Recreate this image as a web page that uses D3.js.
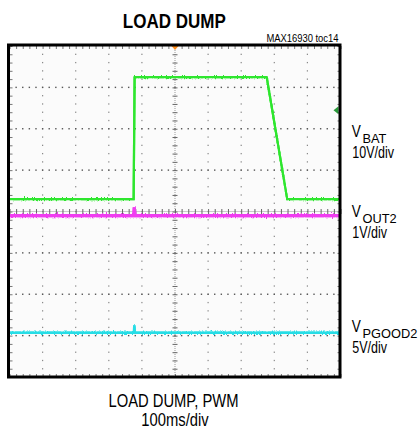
<!DOCTYPE html>
<html>
<head>
<meta charset="utf-8">
<script src="https://cdn.jsdelivr.net/npm/d3@7"></script>
<style>
  body { margin: 0; background: #fff; }
  text { font-family: "Liberation Sans", Arial, sans-serif; }
</style>
</head>
<body>
<div id="chart"></div>
<script>
// scope readings, time in ms (100ms/div, 10 div)
const vbatTime  = [0, 375, 378, 777, 839, 1000];
const vbatVolts = [14, 14, 43.5, 43.5, 14, 14];
const vout2Time  = [0, 376, 377, 379, 1000];
const vout2Volts = [5, 5, 5.2, 5, 5];
const pgoodTime  = [0, 376, 377, 379, 1000];
const pgoodVolts = [5, 5, 5.9, 5, 5];

const channelNames  = ["BAT", "OUT2", "PGOOD2"];
const channelScales = ["10V/div", "1V/div", "5V/div"];
const voltsPerDiv   = [10, 1, 5];
const zeroDiv       = [-1.1, -5.1, -3.93];   // where 0V sits, in div from centre
const triggerLevel  = 35.5;                  // V on VBAT
const triggerTime   = 500;

const title = "LOAD DUMP";
const tocLabel = "MAX16930 toc14";
const footer = ["LOAD DUMP, PWM", "100ms/div"];

const W = 419, H = 431;
const svg = d3.select("#chart").append("svg")
  .attr("width", W).attr("height", H);

const x = d3.scaleLinear().domain([0, 1000]).range([9.5, 340.5]);
const y = d3.scaleLinear().domain([-4, 4]).range([377, 46]);

// squeeze text horizontally (no narrow font installed)
function narrow(sel, k) {
  const n = sel.node();
  sel.attr("textLength", n.getComputedTextLength() * k).attr("lengthAdjust", "spacingAndGlyphs");
  return sel;
}

// noise look for the traces (vertical jitter only)
const defs = svg.append("defs");
const f = defs.append("filter").attr("id", "noise")
  .attr("x", "-5%").attr("y", "-50%").attr("width", "110%").attr("height", "200%");
f.append("feTurbulence").attr("type", "fractalNoise")
  .attr("baseFrequency", "0.9 0.5").attr("numOctaves", 2).attr("seed", 5).attr("result", "t");
const ct = f.append("feComponentTransfer").attr("in", "t").attr("result", "t2");
ct.append("feFuncR").attr("type", "linear").attr("slope", 0).attr("intercept", 0.5);
f.append("feDisplacementMap").attr("in", "SourceGraphic").attr("in2", "t2")
  .attr("scale", 5).attr("xChannelSelector", "R").attr("yChannelSelector", "G");
defs.append("clipPath").attr("id", "plotclip").append("rect")
  .attr("x", x(0)).attr("y", y(4)).attr("width", x(1000) - x(0)).attr("height", y(-4) - y(4));

svg.append("rect")
  .attr("x", x(0)).attr("y", y(4))
  .attr("width", x(1000) - x(0)).attr("height", y(-4) - y(4))
  .attr("fill", "#fbfbfb");

const grid = svg.append("g");
const minorT = d3.range(0, 1001, 20);
const minorV = d3.range(-20, 21).map(d => d / 5);
const majorT = d3.range(100, 1000, 100).filter(d => d !== 500);
const majorV = d3.range(-3, 4).filter(d => d !== 0);

majorT.forEach(t => {
  grid.selectAll(null).data(minorV.slice(1, -1)).join("rect")
    .attr("x", x(t) - 0.6).attr("y", d => y(d) - 0.6)
    .attr("width", 1.2).attr("height", 1.3).attr("fill", "#8a8a8a");
});
majorV.forEach(v => {
  grid.selectAll(null).data(minorT.slice(1, -1)).join("rect")
    .attr("x", d => x(d) - 0.7).attr("y", y(v) - 0.7)
    .attr("width", 1.4).attr("height", 1.4).attr("fill", "#555");
});

// centre cross with ticks
grid.append("line")
  .attr("x1", x(500)).attr("x2", x(500)).attr("y1", y(4)).attr("y2", y(-4))
  .attr("stroke", "#999").attr("stroke-width", 1).attr("stroke-dasharray", "1,1");
grid.append("line")
  .attr("x1", x(0)).attr("x2", x(1000)).attr("y1", y(0)).attr("y2", y(0))
  .attr("stroke", "#999").attr("stroke-width", 1).attr("stroke-dasharray", "1,1");
grid.append("g").attr("transform", `translate(${x(500) + 2.5},0)`)
  .call(d3.axisLeft(y).tickValues(minorV).tickSize(5).tickFormat(""))
  .call(g => g.select(".domain").remove())
  .call(g => g.selectAll("line").attr("stroke", "#666"));
grid.append("g").attr("transform", `translate(0,${y(0) + 2.5})`)
  .call(d3.axisTop(x).tickValues(minorT).tickSize(5).tickFormat(""))
  .call(g => g.select(".domain").remove())
  .call(g => g.selectAll("line").attr("stroke", "#666"));

// edge ticks
const edge = [
  [d3.axisBottom(x).tickValues(minorT), `translate(0,${y(4)})`],
  [d3.axisTop(x).tickValues(minorT), `translate(0,${y(-4)})`],
  [d3.axisRight(y).tickValues(minorV), `translate(${x(0)},0)`],
  [d3.axisLeft(y).tickValues(minorV), `translate(${x(1000)},0)`]
];
edge.forEach(([ax, tr]) => {
  grid.append("g").attr("transform", tr)
    .call(ax.tickSize(3).tickFormat(""))
    .call(g => g.select(".domain").remove())
    .call(g => g.selectAll("line").attr("stroke", "#777"));
});

// traces: solid core plus a jittered copy for the noisy edge
const traces = [
  { t: vbatTime,  v: vbatVolts,  ch: 0, color: "#2fe62f", w: 2.2 },
  { t: vout2Time, v: vout2Volts, ch: 1, color: "#f03cf0", w: 3.2 },
  { t: pgoodTime, v: pgoodVolts, ch: 2, color: "#28dde6", w: 2.4 }
];
const tr = svg.append("g").attr("clip-path", "url(#plotclip)");
traces.forEach(s => {
  const pts = s.t.map((t, i) => [t, zeroDiv[s.ch] + s.v[i] / voltsPerDiv[s.ch]]);
  const line = d3.line().x(d => x(d[0])).y(d => y(d[1]));
  tr.append("path")
    .datum(pts)
    .attr("fill", "none")
    .attr("stroke", s.color)
    .attr("stroke-width", s.w)
    .attr("d", line);
  tr.append("path")
    .datum(pts)
    .attr("fill", "none")
    .attr("stroke", s.color)
    .attr("stroke-width", s.w)
    .attr("filter", "url(#noise)")
    .attr("d", line);
});

// markers
const ty = y(zeroDiv[0] + triggerLevel / voltsPerDiv[0]);
svg.append("path")
  .attr("d", `M${x(1000) - 7},${ty} l5,-4 l0,8 z`)
  .attr("fill", "#2a9a3a");
svg.append("path")
  .attr("d", `M${x(triggerTime) - 3.5},${y(4)} l7,0 l-3.5,4 z`)
  .attr("fill", "#ff8c1a");

// frame
svg.append("rect")
  .attr("x", 8.5).attr("y", 45).attr("width", 331.5).attr("height", 332)
  .attr("fill", "none").attr("stroke", "#000").attr("stroke-width", 3);

// texts
narrow(svg.append("text").attr("x", 174.3).attr("y", 27.7)
  .attr("text-anchor", "middle").attr("font-weight", "bold").attr("font-size", 20.5)
  .text(title), 0.83);
narrow(svg.append("text").attr("x", 338.5).attr("y", 42.3)
  .attr("text-anchor", "end").attr("font-size", 10)
  .text(tocLabel), 0.94);

const labelBase = [136.7, 216.7, 331.7];
channelNames.forEach((n, i) => {
  narrow(svg.append("text").attr("x", 351.7).attr("y", labelBase[i])
    .attr("font-size", 16).text("V"), 0.85);
  svg.append("text").attr("x", 362.5).attr("y", labelBase[i] + 6)
    .attr("font-size", 12.8).text(n);
  narrow(svg.append("text").attr("x", 352.3).attr("y", labelBase[i] + 21.6)
    .attr("font-size", 16).text(channelScales[i]), 0.78);
});

narrow(svg.append("text").attr("x", 173.5).attr("y", 406.5)
  .attr("text-anchor", "middle").attr("font-size", 18).text(footer[0]), 0.82);
narrow(svg.append("text").attr("x", 175).attr("y", 425.5)
  .attr("text-anchor", "middle").attr("font-size", 18).text(footer[1]), 0.82);
</script>
</body>
</html>
